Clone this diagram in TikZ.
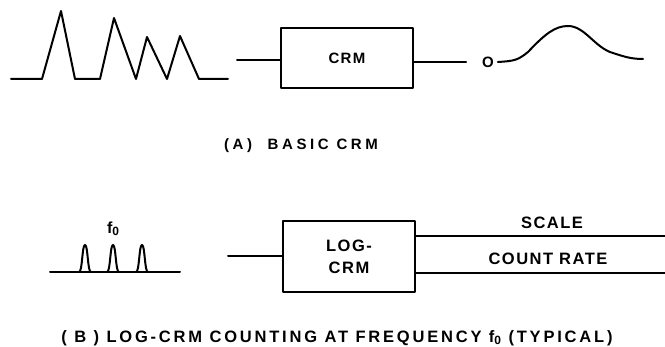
\documentclass[tikz,border=0pt]{standalone}
\usepackage{fontspec}
\usetikzlibrary{calc, positioning}
\newfontfamily\lettering[LetterSpace=9]{Liberation Sans}
\def\basey{79}
\def\pulsey{272}
\tikzstyle{every picture}=[line width=2pt, line join=round, line cap=round]
\tikzstyle{label}=[inner sep=0pt, font=\lettering\bfseries\fontsize{16}{16}\selectfont]
\tikzstyle{crmbox}=[draw, label, minimum width=132pt, align=center]
\tikzstyle{caption}=[label]
\newcommand{\subzero}{\raisebox{-2.5pt}{\fontsize{12}{12}\selectfont 0}}

\begin{document}
\begin{tikzpicture}[x=1pt, y=-1pt]
			\useasboundingbox (0,0) rectangle (665,347);

			% (A) basic CRM
			\draw (11,\basey) -- (42,\basey) -- (61,11) -- (75,\basey) -- (100,\basey)
				-- (114,18) -- (136,\basey) -- (147,37) -- (167,\basey) -- (180,36)
				-- (199,\basey) -- (228,\basey);
			\node[crmbox, minimum height=60pt, font=\lettering\bfseries\fontsize{15}{15}\selectfont] (crm) at (347,58.5) {CRM};
			\coordinate (crm-in) at (237,60);
			\draw (crm-in) -- (crm-in -| crm.west);
			\node[label, font=\lettering\bfseries\fontsize{15}{15}\selectfont] (out) at (488,62) {O};
			\draw (out.west -| crm.east) -- ([xshift=-15pt]out.west);
			\draw ([xshift=3pt]out.east) .. controls (515,61) and (518,60) .. (528,52)
				.. controls (545,34) and (555,26) .. (568,26)
				.. controls (585,26) and (595,48) .. (613,53)
				.. controls (625,57) and (632,59) .. (643,59);
			\node[caption, font=\lettering\bfseries\fontsize{15}{15}\selectfont\addfontfeature{LetterSpace=24}] (capA) at (301,146) {(A)\ \ BASIC CRM};

			% (B) log-CRM
			\draw (50,\pulsey) -- (180,\pulsey);
			\foreach \px in {85,113,142}
			\draw (\px-6,\pulsey) .. controls (\px-2.5,\pulsey) and (\px-3,245) .. (\px,245)
				.. controls (\px+3,245) and (\px+2.5,\pulsey) .. (\px+6,\pulsey);
			\node[label] (freq) at (113,229) {f\subzero};
			\node[crmbox, minimum height=71pt, font=\lettering\bfseries\fontsize{16.5}{22}\selectfont] (logcrm) at (349,256.5) {LOG-\\CRM};
			\coordinate (log-in) at (228,256);
			\draw (log-in) -- (log-in -| logcrm.west);
			\coordinate (scale-end) at (666,236);
			\coordinate (rate-end) at (666,273);
			\draw (logcrm.east |- scale-end) -- (scale-end);
			\draw (logcrm.east |- rate-end) -- (rate-end);
			\node[label, font=\lettering\bfseries\fontsize{16.5}{16.5}\selectfont] (scale) at (552,223) {SCALE};
			\node[label, font=\lettering\bfseries\fontsize{16.5}{16.5}\selectfont] (rate) at (548,259) {COUNT RATE};
			\node[caption, font=\lettering\bfseries\fontsize{16.5}{16.5}\selectfont\addfontfeature{LetterSpace=17}] (capB) at (337,338) {( B ) LOG-CRM COUNTING AT FREQUENCY f\subzero\ (TYPICAL)};
\end{tikzpicture}
\end{document}
